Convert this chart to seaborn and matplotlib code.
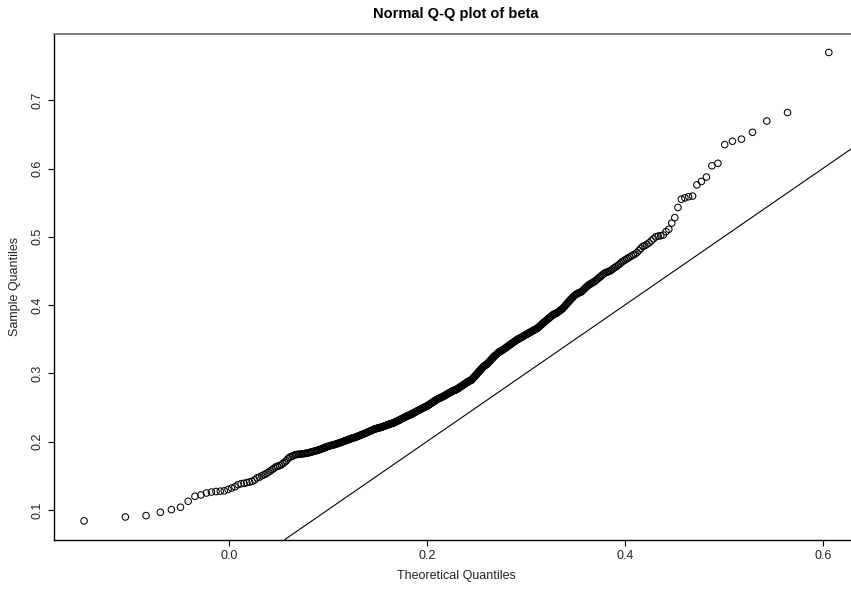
import matplotlib
matplotlib.use("Agg")
import matplotlib.pyplot as plt
import seaborn as sns
import pandas as pd
from statistics import NormalDist

# ---- data (sorted sample values) ----
sample_quantiles = [
    0.084, 0.0897, 0.0917, 0.0966, 0.1005, 0.104, 0.1127, 0.120, 0.122, 0.1248,
    0.1262, 0.127, 0.1275, 0.128, 0.130, 0.132, 0.134, 0.137, 0.1385, 0.139,
    0.140, 0.141, 0.1418, 0.144, 0.147,
    0.148, 0.150, 0.1515, 0.153, 0.155, 0.157, 0.159, 0.161, 0.163, 0.164,
    0.165, 0.166, 0.168, 0.170, 0.172, 0.175, 0.177, 0.178, 0.179, 0.180,
    0.181, 0.1812, 0.1815, 0.1818, 0.182,
    0.1822, 0.1825, 0.1828, 0.1831, 0.1835, 0.184, 0.1845, 0.185, 0.1855, 0.186,
    0.1865, 0.187, 0.1875, 0.188, 0.1885, 0.189, 0.190, 0.1905, 0.191, 0.192,
    0.1925, 0.193, 0.1935, 0.194, 0.1945,
    0.1948, 0.1952, 0.1956, 0.196, 0.1965, 0.197, 0.1975, 0.198, 0.1985, 0.199,
    0.1995, 0.200, 0.2005, 0.201, 0.2015, 0.202, 0.2025, 0.203, 0.2035, 0.204,
    0.2045, 0.205, 0.2053, 0.2057, 0.206,
    0.2065, 0.207, 0.2075, 0.208, 0.2085, 0.209, 0.2095, 0.210, 0.2105, 0.211,
    0.2115, 0.212, 0.2125, 0.213, 0.2135, 0.214, 0.2145, 0.215, 0.2155, 0.216,
    0.2165, 0.217, 0.2175, 0.218, 0.2185,
    0.2188, 0.2192, 0.2195, 0.2198, 0.220, 0.2203, 0.2206, 0.221, 0.2213, 0.2216,
    0.222, 0.2224, 0.2228, 0.2232, 0.2236, 0.224, 0.2244, 0.2248, 0.2252, 0.2256,
    0.226, 0.2263, 0.2266, 0.2268, 0.227,
    0.2275, 0.228, 0.2285, 0.229, 0.2295, 0.230, 0.2305, 0.231, 0.2315, 0.232,
    0.2325, 0.233, 0.2335, 0.234, 0.2345, 0.235, 0.2355, 0.236, 0.2365, 0.237,
    0.2375, 0.238, 0.2383, 0.2386, 0.239,
    0.2395, 0.240, 0.2405, 0.241, 0.2415, 0.242, 0.2425, 0.243, 0.2435, 0.244,
    0.2445, 0.245, 0.2455, 0.246, 0.2465, 0.247, 0.2475, 0.248, 0.2485, 0.249,
    0.2495, 0.250, 0.2503, 0.2506, 0.251,
    0.2515, 0.252, 0.2526, 0.2532, 0.2538, 0.2544, 0.255, 0.2556, 0.2562, 0.2568,
    0.2574, 0.258, 0.2586, 0.2592, 0.2598, 0.2604, 0.261, 0.2615, 0.262, 0.2625,
    0.263, 0.2635, 0.264, 0.2642, 0.2645,
    0.265, 0.2655, 0.266, 0.2665, 0.267, 0.2675, 0.268, 0.2685, 0.269, 0.2695,
    0.270, 0.2705, 0.271, 0.2715, 0.272, 0.2725, 0.273, 0.2735, 0.274, 0.2745,
    0.275, 0.2752, 0.2755, 0.2758, 0.276,
    0.2766, 0.2772, 0.2778, 0.2784, 0.279, 0.2796, 0.2802, 0.2808, 0.2814, 0.282,
    0.2826, 0.2832, 0.2838, 0.2844, 0.285, 0.2856, 0.2862, 0.2868, 0.2874, 0.288,
    0.2885, 0.289, 0.2893, 0.2896, 0.290,
    0.291, 0.292, 0.293, 0.294, 0.295, 0.296, 0.297, 0.298, 0.299, 0.300,
    0.301, 0.302, 0.303, 0.304, 0.305, 0.306, 0.307, 0.308, 0.309, 0.310,
    0.3108, 0.3115, 0.312, 0.3125, 0.313,
    0.314, 0.315, 0.316, 0.317, 0.318, 0.319, 0.320, 0.321, 0.322, 0.323,
    0.324, 0.325, 0.3258, 0.3266, 0.3274, 0.3282, 0.329, 0.3298, 0.3306, 0.3314,
    0.332, 0.3326, 0.3332, 0.3336, 0.334,
    0.3347, 0.3354, 0.3361, 0.3368, 0.3375, 0.3382, 0.3389, 0.3396, 0.3403, 0.341,
    0.3417, 0.3424, 0.3431, 0.3438, 0.3445, 0.3452, 0.3459, 0.3466, 0.3473, 0.348,
    0.3487, 0.3494, 0.350, 0.3505, 0.351,
    0.3516, 0.3522, 0.3528, 0.3534, 0.354, 0.3546, 0.3552, 0.3558, 0.3564, 0.357,
    0.3576, 0.3582, 0.3588, 0.3594, 0.360, 0.3606, 0.3612, 0.3618, 0.3624, 0.363,
    0.3636, 0.3642, 0.3648, 0.3654, 0.366,
    0.367, 0.368, 0.369, 0.370, 0.371, 0.372, 0.373, 0.374, 0.375, 0.376,
    0.377, 0.378, 0.379, 0.380, 0.381, 0.382, 0.383, 0.384, 0.385, 0.386,
    0.3866, 0.3872, 0.3878, 0.3884, 0.389,
    0.390, 0.391, 0.392, 0.393, 0.394, 0.395, 0.3965, 0.398, 0.3995, 0.401,
    0.4025, 0.404, 0.4055, 0.407, 0.4085, 0.410, 0.4115, 0.413, 0.4142, 0.4154,
    0.4164, 0.4172, 0.418, 0.4185, 0.419,
    0.420, 0.4215, 0.423, 0.4245, 0.426, 0.4275, 0.429, 0.430, 0.431, 0.432,
    0.433, 0.434, 0.435, 0.4365, 0.438, 0.4395, 0.441, 0.4425, 0.444, 0.4455,
    0.447, 0.4478, 0.4485, 0.4492, 0.450,
    0.4515, 0.453, 0.4545, 0.456, 0.4575, 0.459, 0.461, 0.463, 0.4645, 0.466,
    0.4675, 0.469, 0.4705, 0.472, 0.4735, 0.475, 0.477, 0.480, 0.483, 0.486,
    0.487, 0.489, 0.491, 0.494, 0.497, 0.500, 0.501, 0.5016, 0.5026, 0.5075,
    0.511, 0.520, 0.528, 0.543, 0.555, 0.557, 0.5587, 0.5597, 0.576, 0.581,
    0.5875, 0.604, 0.6076, 0.635, 0.640, 0.643, 0.653, 0.6695, 0.682, 0.770,
]
assert len(sample_quantiles) == 500, len(sample_quantiles)

# parameters of the reference normal distribution used for the theoretical axis
ref_mean = 0.23
ref_sd = 0.1217

# reference line (y = intercept + slope * x)
line_intercept = 0.0
line_slope = 1.0

x_ticks = [0.0, 0.2, 0.4, 0.6]
x_tick_labels = ["0.0", "0.2", "0.4", "0.6"]
y_ticks = [0.1, 0.2, 0.3, 0.4, 0.5, 0.6, 0.7]
y_tick_labels = ["0.1", "0.2", "0.3", "0.4", "0.5", "0.6", "0.7"]

title = "Normal Q-Q plot of beta"
x_label = "Theoretical Quantiles"
y_label = "Sample Quantiles"

# theoretical quantiles (R's ppoints, a = 0.5)
n = len(sample_quantiles)
nd = NormalDist(ref_mean, ref_sd)
theoretical = [nd.inv_cdf((i - 0.5) / n) for i in range(1, n + 1)]
df = pd.DataFrame({"theoretical": theoretical, "sample": sample_quantiles})

# ---- style ----
sns.set_theme(style="white")
plt.rcParams["font.family"] = ["Liberation Sans", "DejaVu Sans"]

fig = plt.figure(figsize=(8.51, 5.90), dpi=100)
ax = fig.add_axes([0.0638, 0.0854, 0.9451, 0.8575])

sns.scatterplot(data=df, x="theoretical", y="sample", ax=ax, marker="o", s=22,
                facecolor="none", edgecolor="black", linewidth=0.75, legend=False)
ax.axline((0.0, line_intercept), slope=line_slope, color="black", linewidth=0.8)

xmin, xmax = min(theoretical), max(theoretical)
ymin, ymax = min(sample_quantiles), max(sample_quantiles)
xr, yr = xmax - xmin, ymax - ymin
ax.set_xlim(xmin - 0.04 * xr, xmax + 0.04 * xr)
ax.set_ylim(ymin - 0.04 * yr, ymax + 0.04 * yr)

ax.set_xticks(x_ticks)
ax.set_xticklabels(x_tick_labels)
ax.set_yticks(y_ticks)
ax.set_yticklabels(y_tick_labels, rotation=90, va="center")
ax.tick_params(axis="both", direction="out", length=4, width=0.8, color="black",
               labelsize=9, labelcolor="#222222", bottom=True, left=True)
ax.tick_params(axis="x", pad=3.5)
ax.tick_params(axis="y", pad=4)

for side in ["left", "bottom"]:
    ax.spines[side].set_color("black")
    ax.spines[side].set_linewidth(1.0)
ax.spines["top"].set_color("#6a6a6a")
ax.spines["top"].set_linewidth(1.2)
ax.spines["right"].set_visible(False)

ax.set_xlabel(x_label, fontsize=9, color="#222222", labelpad=6)
ax.set_ylabel(y_label, fontsize=9, color="#222222", labelpad=7)
fig.text(0.536, 0.976, title, ha="center", va="center", fontsize=10.5,
         fontweight="bold", color="black")

fig.savefig("out.png", dpi=100)
